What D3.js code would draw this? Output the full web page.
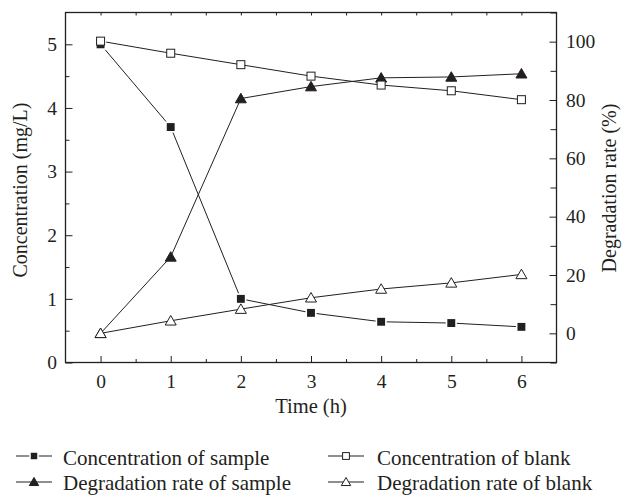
<!DOCTYPE html>
<html>
<head>
<meta charset="utf-8">
<script src="https://cdn.jsdelivr.net/npm/d3@7"></script>
<style>
  html, body { margin: 0; padding: 0; background: #fff; }
  svg { display: block; }
  text { font-family: "Liberation Serif", "DejaVu Serif", serif; fill: #231f20; }
</style>
</head>
<body>
<svg id="chart" width="622" height="498"></svg>
<script>
// ---- data ----
const times = [0, 1, 2, 3, 4, 5, 6];
const concSample = [5.0, 3.70, 1.0, 0.78, 0.64, 0.62, 0.56];
const concBlank = [5.05, 4.86, 4.68, 4.50, 4.36, 4.27, 4.13];
const degSample = [0, 26.2, 80.5, 84.6, 87.6, 87.9, 89.0];
const degBlank = [0, 4.3, 8.3, 12.2, 15.2, 17.3, 20.2];
const xTicks = [0, 1, 2, 3, 4, 5, 6];
const yLeftTicks = [0, 1, 2, 3, 4, 5];
const yRightTicks = [0, 20, 40, 60, 80, 100];
const legendLabels = ["Concentration of sample", "Concentration of blank",
                      "Degradation rate of sample", "Degradation rate of blank"];

// ---- layout ----
const svg = d3.select("#chart");
const L = 65.5, R = 556.5, T = 12.5, B = 362.5;
const ink = "#231f20";

const x = d3.scaleLinear().domain([-0.5, 6.5]).range([L, R]);
const yL = d3.scaleLinear().domain([0, 5.5]).range([B, T]);
const yR = d3.scaleLinear().domain([-10, 110]).range([B, T]);

const g = svg.append("g");

function styleAxis(sel) {
  sel.select(".domain").remove();
  sel.selectAll("line").attr("stroke", ink).attr("stroke-width", 1);
  sel.selectAll("text").attr("font-size", 19.5).style("font-family", '"Liberation Serif", serif').attr("fill", ink);
}
const minorX = d3.range(0.5, 6, 1);
const minorYL = d3.range(0.5, 5, 1);
const minorYR = d3.range(-10, 111, 20);

// bottom
g.append("g").attr("transform", `translate(0,${B})`)
  .call(d3.axisBottom(x).tickValues(minorX).tickSize(-3.5).tickFormat(""))
  .call(styleAxis);
g.append("g").attr("transform", `translate(0,${B})`)
  .call(d3.axisBottom(x).tickValues(xTicks).tickSize(-6.5).tickFormat(d3.format("d")))
  .call(styleAxis)
  .selectAll("text").attr("dy", "0.35em").attr("y", 18.5);
// top
g.append("g").attr("transform", `translate(0,${T})`)
  .call(d3.axisTop(x).tickValues(minorX.concat(xTicks)).tickSize(-3).tickFormat(""))
  .call(styleAxis);
// left
g.append("g").attr("transform", `translate(${L},0)`)
  .call(d3.axisLeft(yL).tickValues(minorYL).tickSize(-4).tickFormat(""))
  .call(styleAxis);
g.append("g").attr("transform", `translate(${L},0)`)
  .call(d3.axisLeft(yL).tickValues(yLeftTicks).tickSize(-7).tickFormat(d3.format("d")))
  .call(styleAxis)
  .selectAll("text").attr("x", -8.5);
// right
g.append("g").attr("transform", `translate(${R},0)`)
  .call(d3.axisRight(yR).tickValues(minorYR).tickSize(-6).tickFormat(""))
  .call(styleAxis);
g.append("g").attr("transform", `translate(${R},0)`)
  .call(d3.axisRight(yR).tickValues(yRightTicks).tickSize(-7).tickFormat(d3.format("d")))
  .call(styleAxis)
  .selectAll("text").attr("x", 9.5);

// frame
g.append("rect").attr("x", L).attr("y", T).attr("width", R - L).attr("height", B - T)
  .attr("fill", "none").attr("stroke", ink).attr("stroke-width", 1.3);

// axis titles
svg.append("text").attr("x", (L + R) / 2).attr("y", 413).attr("text-anchor", "middle")
  .attr("font-size", 20.5).text("Time (h)");
svg.append("text").attr("transform", "translate(27,190) rotate(-90)").attr("text-anchor", "middle")
  .attr("font-size", 20).text("Concentration (mg/L)");
svg.append("text").attr("transform", "translate(616,188) rotate(-90)").attr("text-anchor", "middle")
  .attr("font-size", 20).text("Degradation rate (%)");

// series
const series = [
  { vals: concSample, y: yL, shape: "square", fill: ink },
  { vals: concBlank, y: yL, shape: "square", fill: "#fff" },
  { vals: degSample, y: yR, shape: "triangle", fill: ink },
  { vals: degBlank, y: yR, shape: "triangle", fill: "#fff" }
];

const lineGen = (ys) => d3.line().x((d, i) => x(times[i])).y(d => ys(d));
series.forEach(s => {
  g.append("path").datum(s.vals).attr("d", lineGen(s.y))
    .attr("fill", "none").attr("stroke", ink).attr("stroke-width", 1);
});

function drawMarker(sel, shape, fill, cx, cy, scale) {
  if (shape === "square") {
    if (fill === "#fff") {
      const a = 8 * scale;
      sel.append("rect").attr("x", cx - a / 2).attr("y", cy - a / 2).attr("width", a).attr("height", a)
        .attr("fill", fill).attr("stroke", ink).attr("stroke-width", 1);
    } else {
      const a = 9.5 * scale;
      sel.append("rect").attr("x", cx - a / 2).attr("y", cy - a / 2).attr("width", a).attr("height", a)
        .attr("fill", fill).attr("stroke", "#fff").attr("stroke-width", 1.6);
    }
  } else {
    const w = 11 * scale, h = 9.5 * scale;
    const pts = [[cx - w / 2, cy + h / 2 - 0.5], [cx + w / 2, cy + h / 2 - 0.5], [cx, cy - h / 2 - 0.5]];
    sel.append("path").attr("d", "M" + pts.map(p => p.join(",")).join("L") + "Z")
      .attr("fill", fill).attr("stroke", ink).attr("stroke-width", 1).attr("stroke-linejoin", "miter");
  }
}

// draw filled before open at overlapping points
[0, 2, 1, 3].forEach(k => {
  const s = series[k];
  s.vals.forEach((v, i) => drawMarker(g, s.shape, s.fill, x(times[i]), s.y(v), 1));
});

// legend
const legendPos = [
  { lx: 16, ly: 456, tx: 63, ty: 465 },
  { lx: 328, ly: 456, tx: 377, ty: 465 },
  { lx: 16, ly: 482, tx: 63, ty: 490 },
  { lx: 328, ly: 482, tx: 377, ty: 490 }
];
series.forEach((s, i) => {
  const p = legendPos[i];
  const lg = svg.append("g");
  lg.append("line").attr("x1", p.lx).attr("x2", p.lx + 36).attr("y1", p.ly).attr("y2", p.ly)
    .attr("stroke", ink).attr("stroke-width", 1.2);
  drawMarker(lg, s.shape, s.fill, p.lx + 18, p.ly, 0.85);
  lg.append("text").attr("x", p.tx).attr("y", p.ty).attr("font-size", 21).text(legendLabels[i]);
});
</script>
</body>
</html>
